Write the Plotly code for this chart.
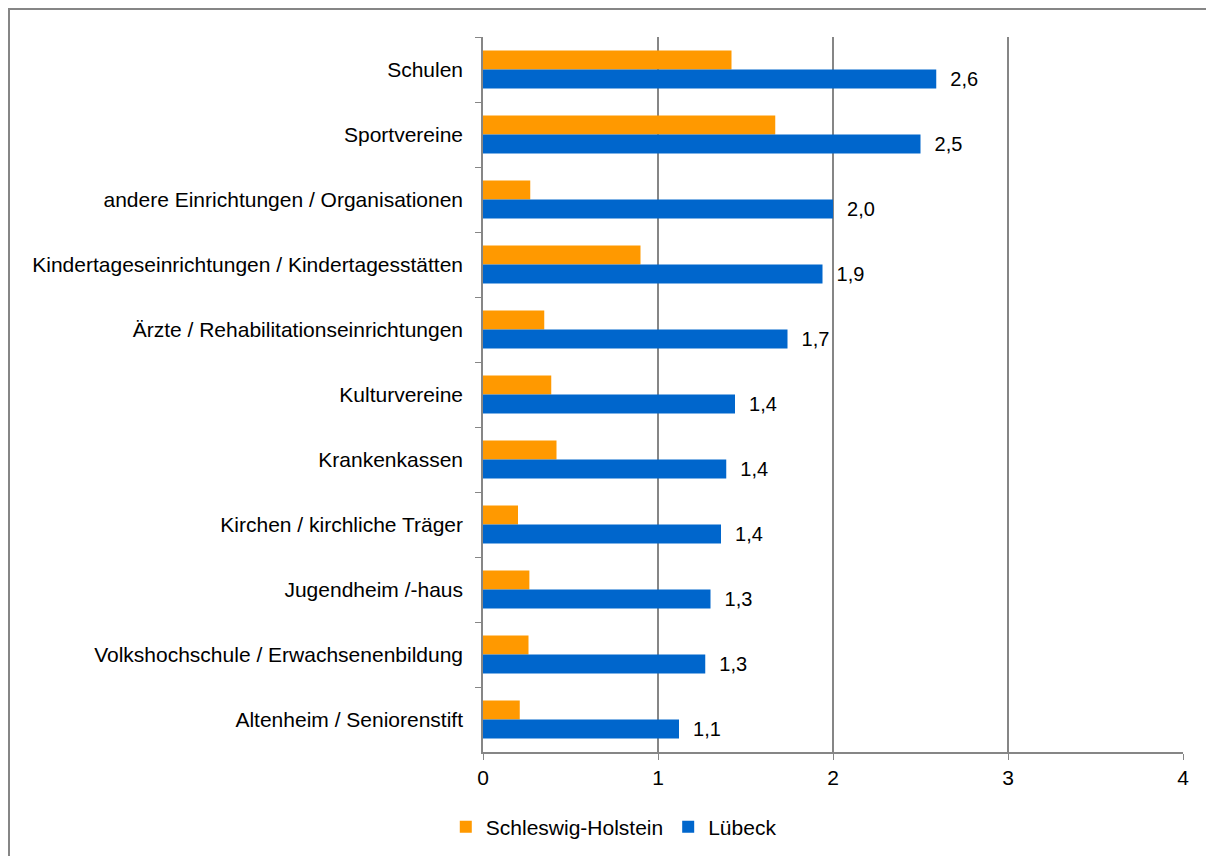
import plotly.graph_objects as go

categories = [
    "Schulen",
    "Sportvereine",
    "andere Einrichtungen / Organisationen",
    "Kindertageseinrichtungen / Kindertagesstätten",
    "Ärzte / Rehabilitationseinrichtungen",
    "Kulturvereine",
    "Krankenkassen",
    "Kirchen / kirchliche Träger",
    "Jugendheim /-haus",
    "Volkshochschule / Erwachsenenbildung",
    "Altenheim / Seniorenstift",
]
schleswig_holstein = [1.42, 1.67, 0.27, 0.90, 0.35, 0.39, 0.42, 0.20, 0.265, 0.26, 0.21]
luebeck = [2.59, 2.50, 2.00, 1.94, 1.74, 1.44, 1.39, 1.36, 1.30, 1.27, 1.12]
luebeck_labels = ["2,6", "2,5", "2,0", "1,9", "1,7", "1,4", "1,4", "1,4", "1,3", "1,3", "1,1"]
x_ticks = [0, 1, 2, 3, 4]

FONT = "Liberation Sans, Arial, sans-serif"
GRID = "#868686"

# page body adds an 8px offset; plot area in figure coords: x 475..1175, y 29..744
L, R, T, B = 475, 39, 29, 112
PW, PH = 1214 - L - R, 856 - T - B

fig = go.Figure()
fig.add_trace(go.Bar(
    y=categories, x=schleswig_holstein, orientation="h",
    name="Schleswig-Holstein", marker=dict(color="#FF9900", line=dict(width=0)),
))
fig.add_trace(go.Bar(
    y=categories, x=luebeck, orientation="h",
    name="Lübeck", marker=dict(color="#0066CC", line=dict(width=0)),
    text=["  " + t for t in luebeck_labels], textposition="outside",
    constraintext="none",
    textfont=dict(size=20, color="black", family=FONT), cliponaxis=False,
))

fig.update_layout(
    width=1214, height=856,
    margin=dict(l=L, r=R, t=T, b=B),
    paper_bgcolor="white", plot_bgcolor="white",
    barmode="group", bargap=0.415, bargroupgap=0,
    font=dict(family=FONT, size=21, color="black"),
    showlegend=True,
    legend=dict(orientation="h", xref="container", yref="container",
                x=0.499, y=0.043, xanchor="center", yanchor="middle",
                font=dict(size=21, family=FONT),
                traceorder="normal"),
    xaxis=dict(range=[0, 4], tickvals=x_ticks, showgrid=True, gridcolor=GRID, gridwidth=1.5,
               showline=True, linecolor=GRID, linewidth=1.5, ticks="outside", ticklen=6,
               tickcolor=GRID, zeroline=False, tickfont=dict(size=21)),
    yaxis=dict(autorange="reversed", showline=True, linecolor=GRID, linewidth=1.5,
               ticks="outside", tickson="boundaries", ticklen=6, tickcolor=GRID,
               showgrid=False, ticklabelstandoff=14, tickfont=dict(size=21)),
    shapes=[dict(type="rect", xref="paper", yref="paper",
                 x0=(1 - L) / PW, x1=(1300 - L) / PW,
                 y0=-(900 - (856 - B)) / PH, y1=1 + (T - 1) / PH,
                 line=dict(color=GRID, width=2), layer="below")],
)

fig.write_html("out.html")
